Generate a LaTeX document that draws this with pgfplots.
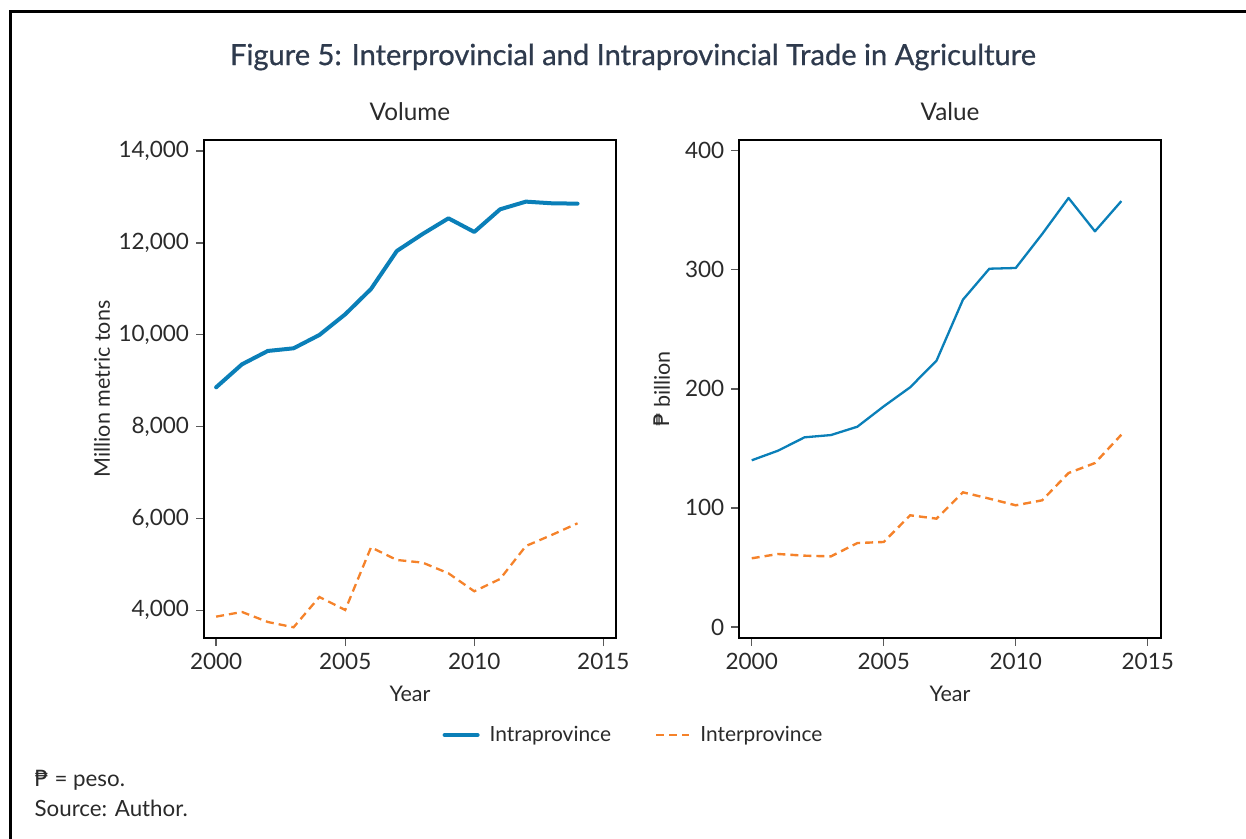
\documentclass[border=0pt]{standalone}
\usepackage{fontspec}
\setmainfont{Lato}
\newfontfamily\titlefont[FakeBold=0.7]{Lato}
\newfontfamily\pesofont{DejaVu Sans}
\usepackage{pgfplots}
\pgfplotsset{compat=1.18}

\definecolor{intra}{HTML}{0A7FB8}
\definecolor{inter}{HTML}{F5822A}
\definecolor{titlec}{HTML}{2E3A4D}
\definecolor{txt}{HTML}{2A2A2A}

\newcommand{\peso}{{\pesofont ₱}}

\pgfplotsset{
  panel/.style={
    scale only axis,
    anchor=south west,
    height=249bp,
    xmin=1999.53, xmax=2015.49,
    xtick={2000,2005,2010,2015},
    axis line style={line width=0.85bp, black},
    tick style={line width=0.7bp, color=black!65},
    major tick length=4bp,
    tick align=outside,
    xtick pos=bottom, ytick pos=left,
    tick label style={font=\fontsize{11.3}{13}\selectfont, text=txt},
    /pgf/number format/assume math mode=true,
    scaled y ticks=false,
    x tick label style={/pgf/number format/1000 sep={}},
    label style={font=\fontsize{10.8}{12}\selectfont, text=txt},
    title style={font=\fontsize{12.2}{14}\selectfont, text=txt, at={(0.5,1)}, anchor=base, yshift=4bp},
    xlabel={Year},
    xlabel style={at={(axis description cs:0.5,-0.1124)}, anchor=center},
  },
}

\begin{document}
\begin{tikzpicture}
\useasboundingbox (0,0) rectangle (623bp,419.5bp);
\draw[line width=1.5bp, black] (5bp,0) -- (5bp,413.5bp) -- (623bp,413.5bp);

\node[text=titlec, font=\titlefont\fontsize{14.6}{17}\selectfont] at (316.5bp,391bp)
  {Figure 5: Interprovincial and Intraprovincial Trade in Agriculture};

% Volume
\begin{axis}[panel,
  at={(102bp,100.5bp)}, width=206bp,
  ymin=3397, ymax=14239,
  ytick={4000,6000,8000,10000,12000,14000},
  y tick label style={/pgf/number format/.cd, fixed, 1000 sep={,}},
  title={Volume},
  ylabel={Million metric tons},
  ylabel style={at={(axis description cs:-0.2476,0.5)}, anchor=center},
  legend columns=2,
  legend style={at={(axis description cs:1.045,-0.1948)}, anchor=center, draw=none,
    font=\fontsize{10.5}{12}\selectfont, text=txt,
    /tikz/every odd column/.append style={column sep=3bp},
    /tikz/every even column/.append style={column sep=20bp}},
  legend image code/.code={\draw[#1] (0bp,0bp) -- (16.5bp,0bp);},
]
\addplot[intra, line width=2bp, line join=round, line cap=round] coordinates {
(2000,8855) (2001,9355) (2002,9646) (2003,9704) (2004,9994)
(2005,10444) (2006,10996) (2007,11823) (2008,12193) (2009,12534)
(2010,12237) (2011,12730) (2012,12897) (2013,12861) (2014,12853)
};
\addlegendentry{Intraprovince}
\addplot[inter, line width=1.15bp, dash pattern=on 4bp off 2.5bp] coordinates {
(2000,3862) (2001,3964) (2002,3746) (2003,3630) (2004,4290)
(2005,4007) (2006,5371) (2007,5096) (2008,5038) (2009,4805)
(2010,4414) (2011,4682) (2012,5400) (2013,5640) (2014,5894)
};
\addlegendentry{Interprovince}
\end{axis}

% Value
\begin{axis}[panel,
  at={(369.65bp,100.5bp)}, width=210.7bp,
  ymin=-9.24, ymax=409,
  ytick={0,100,200,300,400},
  title={Value},
  ylabel={\peso\ billion},
  ylabel style={at={(axis description cs:-0.1834,0.5)}, anchor=center},
]
\addplot[intra, line width=1.15bp, line join=round] coordinates {
(2000,140.0) (2001,148.1) (2002,159.3) (2003,161.2) (2004,168.2)
(2005,185.3) (2006,201.3) (2007,223.7) (2008,274.9) (2009,300.9)
(2010,301.5) (2011,330.0) (2012,360.3) (2013,332.3) (2014,357.7)
};
\addplot[inter, line width=1.2bp, dash pattern=on 4bp off 2.5bp] coordinates {
(2000,57.7) (2001,61.3) (2002,59.9) (2003,59.3) (2004,70.5)
(2005,71.4) (2006,93.8) (2007,91.0) (2008,113.1) (2009,107.8)
(2010,102.2) (2011,106.4) (2012,129.3) (2013,137.7) (2014,161.5)
};
\end{axis}

\node[anchor=west, text=txt, font=\fontsize{11.2}{13}\selectfont] at (13.8bp,29.5bp) {\peso\ = peso.};
\node[anchor=west, text=txt, font=\fontsize{11.2}{13}\selectfont] at (13.8bp,15.5bp) {Source: Author.};
\end{tikzpicture}
\end{document}
